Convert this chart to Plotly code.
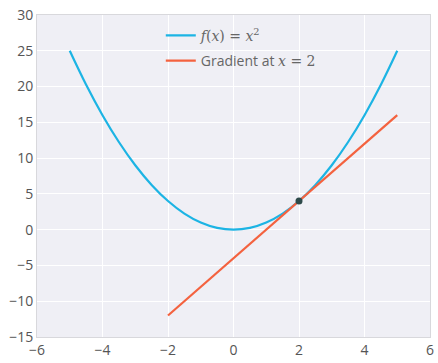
import plotly.graph_objects as go

# Parabola f(x) = x^2 sampled points
curve_x = [-5, -4.5, -4, -3.5, -3, -2.5, -2, -1.5, -1, -0.5, 0, 0.5, 1, 1.5, 2, 2.5, 3, 3.5, 4, 4.5, 5]
curve_y = [25, 20.25, 16, 12.25, 9, 6.25, 4, 2.25, 1, 0.25, 0, 0.25, 1, 2.25, 4, 6.25, 9, 12.25, 16, 20.25, 25]

# Tangent line at x = 2
tangent_x = [-2, 5]
tangent_y = [-12, 16]

# Point of tangency
point_x = [2]
point_y = [4]

x_ticks = [-6, -4, -2, 0, 2, 4, 6]
y_ticks = [-15, -10, -5, 0, 5, 10, 15, 20, 25, 30]

SERIF = "font-family:'DejaVu Serif','Liberation Serif',serif"
name1 = (f"<span style=\"{SERIF}\"><i>f</i>(<i>x</i>) = <i>x</i><sup>2</sup></span>")
name2 = (f"Gradient at <span style=\"{SERIF}\"><i>x</i> = 2</span>")

fig = go.Figure()
fig.add_trace(go.Scatter(x=curve_x, y=curve_y, mode="lines", line=dict(color="#1CB4E4", width=2.2, shape="spline"),
                         name=name1, legendgroup="a"))
fig.add_trace(go.Scatter(x=tangent_x, y=tangent_y, mode="lines", line=dict(color="#F4623F", width=2.2),
                         name=name2, legendgroup="b"))
fig.add_trace(go.Scatter(x=point_x, y=point_y, mode="markers", marker=dict(color="#2D4A4A", size=7),
                         showlegend=False))

fig.update_layout(
    width=438, height=363,
    margin=dict(l=37, r=4, t=15, b=17),
    paper_bgcolor="white",
    plot_bgcolor="#EFEFF5",
    font=dict(family="Open Sans", size=14, color="#555555"),
    legend=dict(x=0.315, y=0.985, xanchor="left", yanchor="top", bgcolor="rgba(0,0,0,0)",
                font=dict(size=14, color="#666666"), itemwidth=30, tracegroupgap=4),
    showlegend=True,
)
fig.update_xaxes(range=[-6, 6], tickvals=x_ticks, gridcolor="white", gridwidth=1, zeroline=False,
                 showline=True, linecolor="#D8D8DC", mirror=True, ticks="", tickfont=dict(size=14, color="#555555"))
fig.update_yaxes(range=[-15, 30], tickvals=y_ticks, gridcolor="white", gridwidth=1, zeroline=False,
                 showline=True, linecolor="#D8D8DC", mirror=True, ticks="", tickfont=dict(size=14, color="#555555"))

fig.write_html("out.html")
